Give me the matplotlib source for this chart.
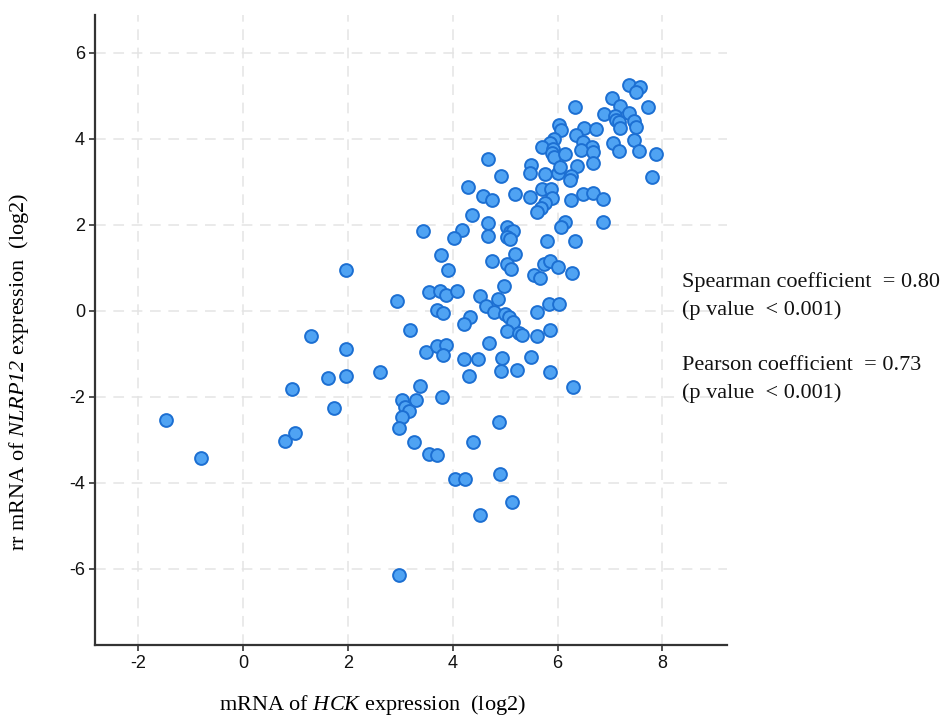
import matplotlib
matplotlib.use('Agg')
import matplotlib.pyplot as plt

# values (HCK log2, NLRP12 log2)
hck = [
    7.37, 7.58, 7.50, 7.03, 7.20, 7.73, 6.34, 6.88, 7.37, 7.09,
    7.12, 7.18, 7.45, 7.50, 7.20, 6.02, 6.06, 6.51, 6.74, 6.36,
    5.94, 5.85, 5.70, 5.92, 5.90, 5.94, 6.15, 6.48, 6.65, 6.44,
    6.67, 7.05, 7.45, 7.18, 7.56, 7.87, 7.81, 4.67,
    5.49, 5.47, 5.77, 6.00, 6.04, 6.38, 6.67, 6.25, 6.23, 4.93,
    4.30, 4.57, 4.76, 5.18, 5.47, 5.71, 5.87, 5.90, 5.77, 5.68,
    5.60, 6.25, 6.48, 6.67, 6.86, 6.86, 6.15, 6.06, 6.34, 5.79,
    4.36, 4.67, 4.67, 5.03, 5.09, 5.16, 5.03, 5.10, 4.17, 4.02,
    3.43, 3.77, 3.92, 1.96, 4.76, 5.18, 5.03, 5.12, 5.75, 5.85,
    6.00, 6.27, 5.56, 5.66, 4.97, 2.93, 3.54, 3.75, 3.87, 4.08,
    3.71, 3.81, 4.53, 4.86, 4.63, 4.78, 4.99, 5.07, 5.16, 5.60,
    5.83, 6.02, 3.18, 4.34, 4.21, 4.69, 5.03, 5.26, 5.33, 5.60,
    5.85, 1.30, 1.96, 3.50, 3.70, 3.87, 3.81, 4.21, 4.48, 4.95,
    5.50, 4.32, 4.93, 5.22, 5.85, 6.30, 1.62, 1.96, 2.61, 1.73,
    3.37, 3.03, 3.30, 3.10, 3.16, 3.03, 2.97, 3.79, 3.26, 3.54,
    3.70, 4.04, 4.23, 4.88, 4.38, 4.90, 5.14, 4.53, 2.97, -1.47,
    -0.80, 0.80, 0.99, 0.93,
]
nlrp12 = [
    5.26, 5.21, 5.09, 4.95, 4.77, 4.74, 4.74, 4.58, 4.60, 4.53,
    4.44, 4.40, 4.42, 4.28, 4.26, 4.33, 4.21, 4.26, 4.23, 4.09,
    4.00, 3.91, 3.81, 3.77, 3.67, 3.58, 3.65, 3.93, 3.81, 3.74,
    3.70, 3.91, 3.98, 3.72, 3.72, 3.65, 3.12, 3.53,
    3.40, 3.21, 3.19, 3.21, 3.35, 3.37, 3.44, 3.14, 3.05, 3.14,
    2.88, 2.67, 2.58, 2.72, 2.65, 2.84, 2.84, 2.63, 2.51, 2.40,
    2.30, 2.58, 2.72, 2.74, 2.60, 2.07, 2.07, 1.95, 1.63, 1.63,
    2.23, 2.05, 1.74, 1.95, 1.84, 1.86, 1.72, 1.67, 1.88, 1.70,
    1.86, 1.30, 0.95, 0.95, 1.16, 1.33, 1.09, 0.98, 1.09, 1.16,
    1.02, 0.88, 0.84, 0.77, 0.58, 0.23, 0.44, 0.47, 0.37, 0.47,
    0.02, -0.05, 0.35, 0.28, 0.12, -0.02, -0.07, -0.14, -0.26, -0.02,
    0.16, 0.16, -0.44, -0.14, -0.30, -0.74, -0.47, -0.51, -0.56, -0.58,
    -0.44, -0.58, -0.88, -0.95, -0.81, -0.79, -1.02, -1.12, -1.12, -1.09,
    -1.07, -1.51, -1.40, -1.37, -1.42, -1.77, -1.56, -1.51, -1.42, -2.26,
    -1.74, -2.07, -2.07, -2.23, -2.33, -2.47, -2.72, -2.00, -3.05, -3.33,
    -3.35, -3.91, -3.91, -2.58, -3.05, -3.79, -4.44, -4.74, -6.14, -2.53,
    -3.42, -3.02, -2.84, -1.81,
]
xticks = [-2, 0, 2, 4, 6, 8]
yticks = [-6, -4, -2, 0, 2, 4, 6]
stats_text = ["Spearman coefficient  = 0.80", "(p value  < 0.001)",
              "Pearson coefficient  = 0.73", "(p value  < 0.001)"]

plt.rcParams['axes.unicode_minus'] = False
# math parts only hold the italic gene names
plt.rcParams['mathtext.fontset'] = 'custom'
plt.rcParams['mathtext.rm'] = 'Liberation Serif:italic'
plt.rcParams['mathtext.it'] = 'Liberation Serif:italic'

fig = plt.figure(figsize=(9.49, 7.2), dpi=100)
ax = fig.add_axes([0.1006, 0.1042, 0.6654, 0.875])

ax.scatter(hck, nlrp12, s=85, facecolor='#4fa3f3', edgecolor='#1c6fd2',
           linewidths=1.4, zorder=3)

ax.set_xlim(-2.81, 9.23)
ax.set_ylim(-7.77, 6.88)
ax.set_xticks(xticks)
ax.set_yticks(yticks)
ax.grid(True, color='#e4e4e4', linestyle=(0, (7, 5)), linewidth=1.1, zorder=0)

for side in ['top', 'right']:
    ax.spines[side].set_visible(False)
for side in ['left', 'bottom']:
    ax.spines[side].set_color('#333333')
    ax.spines[side].set_linewidth(1.6)
ax.tick_params(direction='out', length=4, width=1.2, color='#333333',
               labelsize=13, labelcolor='#111111')
for lab in ax.get_xticklabels() + ax.get_yticklabels():
    lab.set_family(['Liberation Sans Narrow', 'Liberation Sans'])

ax.set_xlabel(r'mRNA of $\mathit{HCK}$ expression  (log2)',
              family='Liberation Serif', fontsize=16)
ax.set_ylabel(r'rr mRNA of $\mathit{NLRP12}$ expression  (log2)',
              family='Liberation Serif', fontsize=16)
ax.xaxis.set_label_coords(0.438, -0.076)
ax.yaxis.set_label_coords(-0.102, 0.433)

ys = [282, 310, 366, 393]
for t, yp in zip(stats_text, ys):
    fig.text(682 / 949, 1 - yp / 720, t, family='Liberation Serif',
             fontsize=16, va='center', ha='left', color='#111111')

fig.savefig('out.png', dpi=100)
